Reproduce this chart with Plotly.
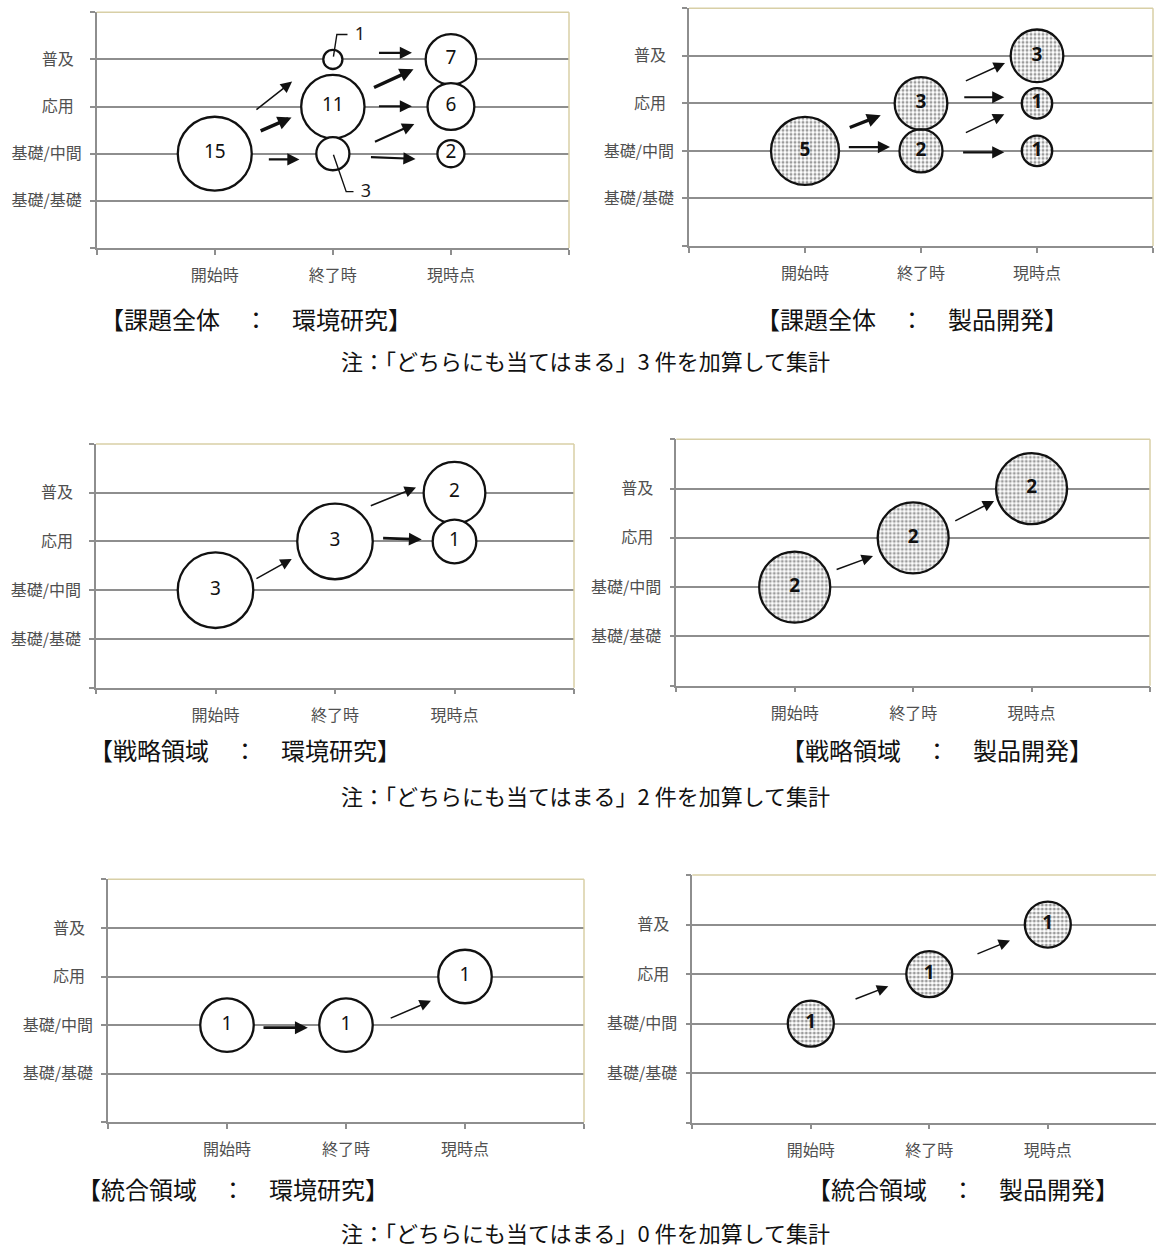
import numpy as np
import plotly.graph_objects as go

W, H = 1156, 1252

# ---------------- data ----------------
stage_labels = ['開始時', '終了時', '現時点']
level_labels = ['基礎/基礎', '基礎/中間', '応用\u2002', '普及\u2002']

# panel 1: 課題全体 : 環境研究
p1_stage = [1, 2, 2, 2, 3, 3, 3]
p1_level = [2, 4, 3, 2, 4, 3, 2]
p1_count = [15, 1, 11, 3, 7, 6, 2]
p1_inside = [True, False, True, False, True, True, True]
# panel 2: 課題全体 : 製品開発
p2_stage = [1, 2, 2, 3, 3, 3]
p2_level = [2, 3, 2, 4, 3, 2]
p2_count = [5, 3, 2, 3, 1, 1]
# panel 3: 戦略領域 : 環境研究
p3_stage = [1, 2, 3, 3]
p3_level = [2, 3, 4, 3]
p3_count = [3, 3, 2, 1]
# panel 4: 戦略領域 : 製品開発
p4_stage = [1, 2, 3]
p4_level = [2, 3, 4]
p4_count = [2, 2, 2]
# panel 5: 統合領域 : 環境研究
p5_stage = [1, 2, 3]
p5_level = [2, 2, 3]
p5_count = [1, 1, 1]
# panel 6: 統合領域 : 製品開発
p6_stage = [1, 2, 3]
p6_level = [2, 3, 4]
p6_count = [1, 1, 1]

# transition arrows (tail stage, tail level, head stage, head level, weight)
p1_arrows = [(1.34, 2.91, 1.655, 3.53, 'thin'), (1.376, 2.47, 1.65, 2.77, 'thick'),
             (1.445, 1.88, 1.717, 1.88, 'mid'), (2.378, 4.14, 2.67, 4.14, 'mid'),
             (2.336, 3.39, 2.683, 3.79, 'thick'), (2.378, 3.006, 2.67, 3.006, 'mid'),
             (2.344, 2.24, 2.69, 2.63, 'mid'), (2.31, 1.93, 2.70, 1.89, 'mid')]
p2_arrows = [(1.373, 2.48, 1.653, 2.75, 'thick'), (1.365, 2.08, 1.733, 2.08, 'mid'),
             (2.374, 3.46, 2.724, 3.85, 'thin'), (2.36, 3.13, 2.718, 3.13, 'mid'),
             (2.374, 2.37, 2.718, 2.77, 'thin'), (2.35, 1.97, 2.718, 1.97, 'mid')]
p3_arrows = [(1.33, 2.22, 1.638, 2.64, 'thin'), (2.287, 3.72, 2.678, 4.11, 'thin'),
             (2.39, 3.07, 2.726, 3.04, 'bold')]
p4_arrows = [(1.341, 2.347, 1.661, 2.63, 'thin'), (2.343, 3.33, 2.684, 3.75, 'thin')]
p5_arrows = [(1.294, 1.946, 1.679, 1.946, 'bold'), (2.363, 2.13, 2.714, 2.50, 'thin')]
p6_arrows = [(1.365, 2.484, 1.654, 2.753, 'thin'), (2.394, 3.395, 2.681, 3.678, 'thin')]

# callouts for small bubbles in panel 1 (label, leader path x, leader path y, label x, label y)
p1_callouts = [('1', [2.005, 2.034, 2.124], [4.06, 4.53, 4.53], 2.23, 4.50),
               ('3', [2.005, 2.113, 2.175], [1.98, 1.195, 1.195], 2.28, 1.175)]

captions = [('【課題全体　：　環境研究】', '【課題全体　：　製品開発】', '注：「どちらにも当てはまる」3 件を加算して集計'),
            ('【戦略領域　：　環境研究】', '【戦略領域　：　製品開発】', '注：「どちらにも当てはまる」2 件を加算して集計'),
            ('【統合領域　：　環境研究】', '【統合領域　：　製品開発】', '注：「どちらにも当てはまる」0 件を加算して集計')]

# ---------------- layout / style ----------------
# left, right, top, bottom (px), x max
geom = [(96.7, 569, 12.3, 248, 4), (689, 1153, 8.3, 246, 4),
        (96, 574, 444, 687.7, 4), (676.3, 1150, 439.3, 685.7, 4),
        (108, 584, 879.3, 1122.3, 4), (692.3, 1156, 875, 1122.7, 3.913)]
bubble_k = [19.1, 30.4, 43.6, 50.2, 53.5, 46.0]   # px diameter per sqrt(count)
patterned = [False, True, False, True, False, True]
caption_pos = [((256, 318), (912, 318), (585, 360)),
               ((245, 750), (937, 750), (585, 795)),
               ((233, 1188), (963, 1188), (585, 1232))]

weights = {'thin': 1.5, 'mid': 2.1, 'bold': 2.7, 'thick': 3.4}

GRID = '#8e8e8e'
BORDER = '#d8cfa6'
LABEL = '#505050'
JP = 'Noto Sans CJK JP'

panels = [
    (p1_stage, p1_level, p1_count, p1_inside, p1_arrows),
    (p2_stage, p2_level, p2_count, [True] * len(p2_count), p2_arrows),
    (p3_stage, p3_level, p3_count, [True] * len(p3_count), p3_arrows),
    (p4_stage, p4_level, p4_count, [True] * len(p4_count), p4_arrows),
    (p5_stage, p5_level, p5_count, [True] * len(p5_count), p5_arrows),
    (p6_stage, p6_level, p6_count, [True] * len(p6_count), p6_arrows),
]

fig = go.Figure()
annotations = []
shapes = []
theta = np.linspace(0, 2 * np.pi, 97)

for i, (xs, ys, cs, inside, arrows) in enumerate(panels):
    n = '' if i == 0 else str(i + 1)
    xa, ya = 'x' + n, 'y' + n
    L, R, T, B, xmax = geom[i]
    k = bubble_k[i]
    bold = patterned[i]
    px_per_x = (R - L) / xmax
    px_per_y = (B - T) / 5.0

    if bold:
        # stippled fill inside each bubble (radius follows the bubble size scale)
        for sx, sy, c in zip(xs, ys, cs):
            r = k * np.sqrt(c) / 2.0
            fig.add_trace(go.Scatter(
                x=sx + r / px_per_x * np.cos(theta), y=sy + r / px_per_y * np.sin(theta),
                mode='lines', line=dict(width=0, color='rgba(0,0,0,0)'),
                fill='toself', fillcolor='white',
                fillpattern=dict(shape='.', fgcolor='#3a3a3a', bgcolor='white', size=4, solidity=0.45),
                xaxis=xa, yaxis=ya, hoverinfo='skip', showlegend=False))

    fig.add_trace(go.Scatter(
        x=xs, y=ys, mode='markers+text',
        text=[('<b>%d</b>' % c if bold else str(c)) if ins else '' for c, ins in zip(cs, inside)],
        textposition='middle center',
        textfont=dict(family='Noto Sans', size=19, color='#111111'),
        marker=dict(size=cs, sizemode='area', sizeref=2.0 / (k * k),
                    color='rgba(0,0,0,0)' if bold else 'white',
                    line=dict(color='#111111', width=2.3), opacity=1),
        xaxis=xa, yaxis=ya, hoverinfo='skip', showlegend=False, cliponaxis=False))

    common_minor = dict(tickmode='linear', tick0=0, dtick=1, ticks='outside', ticklen=5,
                        tickcolor=GRID, tickwidth=1.5, showgrid=False)
    fig.layout['xaxis' + n] = dict(
        domain=[L / W, R / W], range=[0, xmax], anchor=ya,
        tickmode='array', tickvals=[1, 2, 3], ticktext=stage_labels,
        showgrid=False, zeroline=False, showline=True, linecolor=GRID, linewidth=1.5,
        ticks='outside', ticklen=5, tickcolor=GRID, tickwidth=1.5,
        tickfont=dict(family=JP, size=16, color=LABEL), ticklabelstandoff=7,
        minor=common_minor, fixedrange=True)
    fig.layout['yaxis' + n] = dict(
        domain=[1 - B / H, 1 - T / H], range=[0, 5], anchor=xa,
        tickmode='array', tickvals=[1, 2, 3, 4], ticktext=level_labels,
        showgrid=True, gridcolor=GRID, gridwidth=1.5, zeroline=False,
        showline=True, linecolor=GRID, linewidth=1.5,
        ticks='outside', ticklen=5, tickcolor=GRID, tickwidth=1.5,
        tickfont=dict(family=JP, size=16, color=LABEL), ticklabelstandoff=5,
        minor=common_minor, fixedrange=True)

    # plot-area border (top / right)
    shapes.append(dict(type='line', xref=xa + ' domain', yref=ya + ' domain',
                       x0=0, x1=1, y0=1, y1=1, line=dict(color=BORDER, width=1.5), layer='above'))
    if R < W - 1:
        shapes.append(dict(type='line', xref=xa + ' domain', yref=ya + ' domain',
                           x0=1, x1=1, y0=0, y1=1, line=dict(color=BORDER, width=1.5), layer='above'))

    for (x0, y0, x1, y1, wt) in arrows:
        w = weights[wt]
        annotations.append(dict(
            x=x1, y=y1, ax=x0, ay=y0, xref=xa, yref=ya, axref=xa, ayref=ya,
            text='', showarrow=True, arrowhead=2, arrowwidth=w,
            arrowsize=(1.9 + 0.25 * w) / w, arrowcolor='#111111', standoff=0, startstandoff=0))

# callouts in panel 1
for lab, lx, ly, tx, ty in p1_callouts:
    fig.add_trace(go.Scatter(x=lx, y=ly, mode='lines', line=dict(color='#111111', width=1.4),
                             xaxis='x', yaxis='y', hoverinfo='skip', showlegend=False))
    fig.add_trace(go.Scatter(x=[tx], y=[ty], mode='text', text=[lab],
                             textfont=dict(family='Noto Sans', size=18, color='#1a1a1a'),
                             xaxis='x', yaxis='y', hoverinfo='skip', showlegend=False, cliponaxis=False))

# captions
for (left, right, note), (lp, rp, np_) in zip(captions, caption_pos):
    for txt, (cx, cy), sz in ((left, lp, 24), (right, rp, 24), (note, np_, 22)):
        annotations.append(dict(text=txt, x=cx / W, y=1 - cy / H, xref='paper', yref='paper',
                                showarrow=False, xanchor='center', yanchor='middle',
                                font=dict(family=JP, size=sz, color='#111111')))

fig.update_layout(width=W, height=H, margin=dict(l=0, r=0, t=0, b=0),
                  paper_bgcolor='white', plot_bgcolor='white',
                  annotations=annotations, shapes=shapes, showlegend=False)

fig.write_html('out.html')
